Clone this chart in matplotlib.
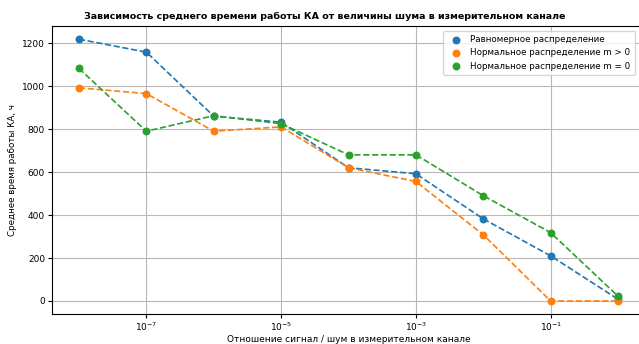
import numpy as np
import matplotlib
matplotlib.use("Agg")
import matplotlib.pyplot as plt

# signal / noise ratio in the measurement channel
snr = [1e-8, 1e-7, 1e-6, 1e-5, 1e-4, 1e-3, 1e-2, 1e-1, 1e0]

uniform = [1218, 1158, 860, 832, 620, 592, 382, 210, 8]
normal_pos = [992, 965, 790, 810, 620, 556, 308, 0, 0]
normal_zero = [1082, 790, 862, 825, 680, 680, 490, 318, 22]

series = [
    (uniform, "Равномерное распределение", "#1f77b4"),
    (normal_pos, "Нормальное распределение m > 0", "#ff7f0e"),
    (normal_zero, "Нормальное распределение m = 0", "#2ca02c"),
]

plt.rcParams.update({"font.family": "DejaVu Sans", "font.size": 6.5})

fig = plt.figure(figsize=(6.39, 3.44), dpi=100)
ax = fig.add_axes([0.0814, 0.087, 0.928, 0.837])

for vals, name, c in series:
    ax.scatter(snr, vals, s=22, color=c, label=name, zorder=3)
    ax.plot(snr, vals, ls="--", lw=1.2, color=c, zorder=2)

ax.set_xscale("log")
ax.set_xticks([1e-7, 1e-5, 1e-3, 1e-1])
ax.xaxis.set_minor_locator(matplotlib.ticker.NullLocator())
ax.set_yticks([0, 200, 400, 600, 800, 1000, 1200])
ax.grid(True, color="#b8b8b8", lw=0.8)
ax.set_axisbelow(True)

ax.set_title("Зависимость среднего времени работы КА от величины шума в измерительном канале",
             fontsize=6.8, fontweight="bold", pad=5, x=0.46)
ax.set_xlabel("Отношение сигнал / шум в измерительном канале", fontsize=6.5, labelpad=1)
ax.set_ylabel("Среднее время работы КА, ч", fontsize=6.3)
ax.tick_params(labelsize=6.5, length=3, pad=2)

ax.legend(loc="upper right", fontsize=6.3, handletextpad=0.6, borderpad=0.5,
          bbox_to_anchor=(0.99, 1.0))

fig.savefig("out.png", dpi=100)
